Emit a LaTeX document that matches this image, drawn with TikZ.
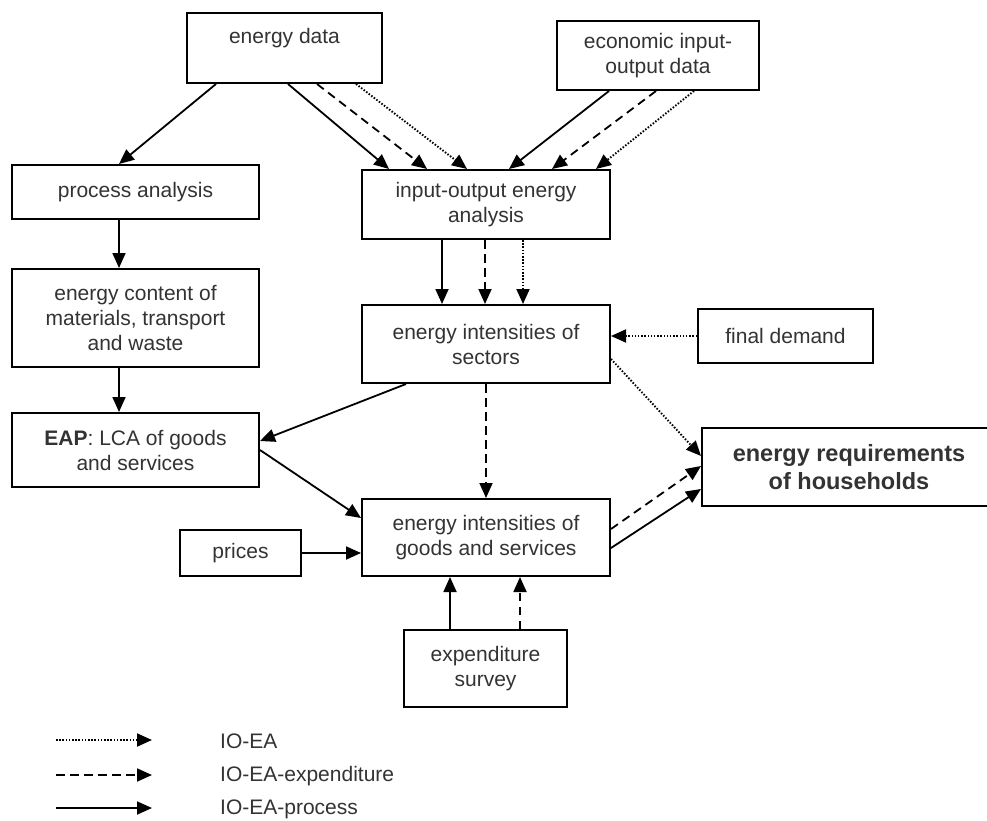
\documentclass[tikz,border=0pt]{standalone}
\usepackage{fontspec}
\setmainfont{Liberation Sans}
\usetikzlibrary{arrows.meta,calc}
\definecolor{txt}{HTML}{333333}
\begin{document}
\begin{tikzpicture}[x=1pt,y=-1pt,
  box/.style={draw=black,line width=2pt,inner sep=0pt,align=center,text=txt,
    font=\fontsize{21}{25}\selectfont},
  con/.style={line width=1.8pt,-{Triangle[length=15pt,width=13pt]}},
  dsh/.style={con,dash pattern=on 8.5pt off 5.5pt},
  dtt/.style={con,line width=1.9pt,dash pattern=on 1.5pt off 1.7pt},
  lgd/.style={anchor=west,inner sep=0pt,text=txt,font=\fontsize{21}{25}\selectfont}]
\clip (0,0) rectangle (987,821);
\fill[white] (0,0) rectangle (987,821);

\node[box,minimum width=195,minimum height=70] (edata) at (284.5,48) {energy data\\\mbox{}};
\node[box,minimum width=202,minimum height=69] (econ) at (658,55.5) {economic input-\\output data};
\node[box,minimum width=247,minimum height=54] (proc) at (135.5,192) {process analysis};
\node[box,minimum width=248,minimum height=69] (ioea) at (486,204.5) {input-output energy\\analysis};
\node[box,minimum width=247,minimum height=98] (content) at (135.5,318) {energy content of\\materials, transport\\and waste};
\node[box,minimum width=248,minimum height=78] (sect) at (486,344) {energy intensities of\\sectors};
\node[box,minimum width=175,minimum height=54] (fd) at (785.5,336) {final demand};
\node[box,minimum width=247,minimum height=74] (eap) at (135.5,450) {\textbf{EAP}: LCA of goods\\and services};
\node[box,minimum width=294,minimum height=78,font=\fontsize{23.5}{27.5}\selectfont\bfseries] (hh) at (849,467) {energy requirements\\of households};
\node[box,minimum width=248,minimum height=77] (goods) at (486,537.5) {energy intensities of\\goods and services};
\node[box,minimum width=121,minimum height=46] (prices) at (240.5,553) {prices};
\node[box,minimum width=163,minimum height=77] (exp) at (485.5,668.5) {expenditure\\survey};

% energy data
\draw[con] ($(edata.south west)+(30,0)$) -- ($(proc.north west)+(108,0)$);
\draw[con] ($(edata.south west)+(102,0)$) -- ($(ioea.north west)+(28,0)$);
\draw[dsh] ($(edata.south west)+(131,0)$) -- ($(ioea.north west)+(66,0)$);
\draw[dtt] ($(edata.south west)+(170,0)$) -- ($(ioea.north west)+(106,0)$);
% economic data
\draw[con] ($(econ.south west)+(53,0)$) -- ($(ioea.north west)+(148,0)$);
\draw[dsh] ($(econ.south west)+(100,0)$) -- ($(ioea.north west)+(191,0)$);
\draw[dtt] ($(econ.south west)+(138,0)$) -- ($(ioea.north west)+(235,0)$);
% ioea -> sectors
\draw[con] ($(ioea.south west)+(81,0)$) -- ($(sect.north west)+(81,0)$);
\draw[dsh] ($(ioea.south west)+(124,0)$) -- ($(sect.north west)+(124,0)$);
\draw[dtt] ($(ioea.south west)+(162,0)$) -- ($(sect.north west)+(162,0)$);
% left column
\draw[con] ($(proc.south west)+(108,0)$) -- ($(content.north west)+(108,0)$);
\draw[con] ($(content.south west)+(108,0)$) -- ($(eap.north west)+(108,0)$);
% sectors
\draw[con] ($(sect.south west)+(45,0)$) -- ($(eap.north east)+(0,29)$);
\draw[dsh] (sect.south) -- (goods.north);
\draw[dtt] (fd.west) -- (fd.west -| sect.east);
\draw[dtt] ($(sect.north east)+(0,55)$) -- ($(hh.north west)+(0,29)$);
% goods
\draw[con] (eap.east) -- ($(goods.north west)+(0,20)$);
\draw[con] (prices.east) -- (prices.east -| goods.west);
\draw[dsh] ($(goods.north east)+(0,31)$) -- ($(hh.north west)+(0,39)$);
\draw[con] ($(goods.north east)+(0,50)$) -- ($(hh.north west)+(0,62)$);
\draw[con] ($(exp.north west)+(47,0)$) -- ($(goods.south west)+(89,0)$);
\draw[dsh] ($(exp.north west)+(117,0)$) -- ($(goods.south west)+(159,0)$);

% legend
\coordinate (l1a) at (56,740); \coordinate (l1b) at (152,740);
\coordinate (l2a) at (56,775); \coordinate (l2b) at (152,775);
\coordinate (l3a) at (56,808); \coordinate (l3b) at (152,808);
\draw[dtt] (l1a) -- (l1b);
\draw[dsh] (l2a) -- (l2b);
\draw[con] (l3a) -- (l3b);
\node[lgd] (t1) at (220,741) {IO-EA};
\node[lgd] (t2) at (220,776) {IO-EA-expenditure};
\node[lgd] (t3) at (220,809) {IO-EA-process};
\end{tikzpicture}
\end{document}
